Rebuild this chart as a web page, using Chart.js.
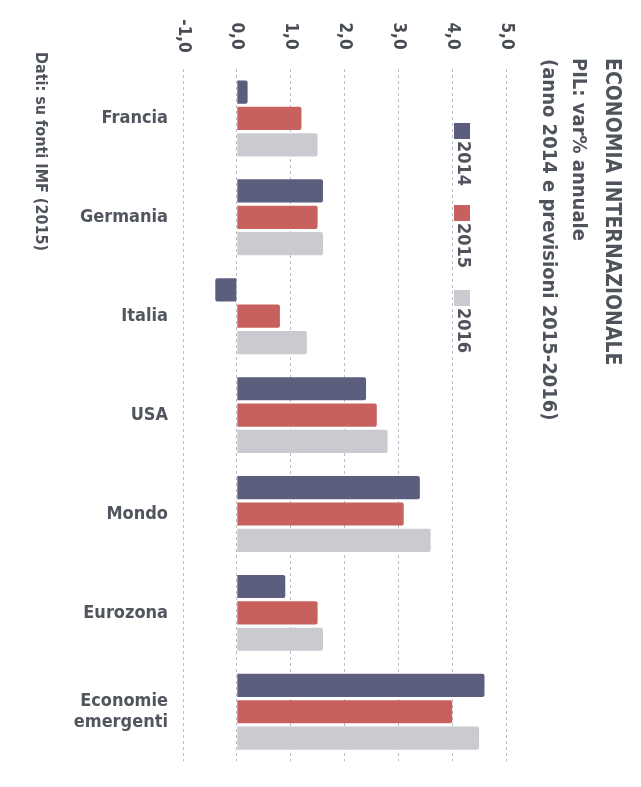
<!DOCTYPE html>
<html>
<head>
<meta charset="utf-8">
<script src="https://cdn.jsdelivr.net/npm/chart.js@4.4.1/dist/chart.umd.min.js"></script>
<style>
html,body{margin:0;padding:0;background:#fff;}
#wrap{position:relative;width:641px;height:787px;}
</style>
</head>
<body>
<div id="wrap"><canvas id="c" width="641" height="787"></canvas></div>
<script>
const categories = ['Francia', 'Germania', 'Italia', 'USA', 'Mondo', 'Eurozona', ['Economie', 'emergenti']];
const seriesNames = ['2014', '2015', '2016'];
const values2014 = [0.2, 1.6, -0.4, 2.4, 3.4, 0.9, 4.6];
const values2015 = [1.2, 1.5, 0.8, 2.6, 3.1, 1.5, 4.0];
const values2016 = [1.5, 1.6, 1.3, 2.8, 3.6, 1.6, 4.5];
const tickLabels = ['-1,0', '0,0', '1,0', '2,0', '3,0', '4,0', '5,0'];
const titleLines = ['ECONOMIA INTERNAZIONALE', 'PIL: var% annuale', '(anno 2014 e previsioni 2015-2016)'];
const sourceNote = 'Dati: su fonti IMF (2015)';

const colors = ['#5b5f7d', '#c8605d', '#c9cbd0'];
const FONT = '"DejaVu Sans Condensed", "DejaVu Sans", sans-serif';
const TXT = '#4f545c';

function rotText(ctx, text, x, y, font, color) {
  ctx.save();
  ctx.translate(x, y);
  ctx.rotate(Math.PI / 2);
  ctx.font = font;
  ctx.fillStyle = color;
  ctx.textAlign = 'left';
  ctx.textBaseline = 'middle';
  ctx.fillText(text, 0, 0);
  ctx.restore();
}

const textPlugin = {
  id: 'rotatedTexts',
  afterDraw(chart) {
    const ctx = chart.ctx;
    const xs = chart.scales.x;
    // tick labels, rotated clockwise
    xs.ticks.forEach((t, i) => {
      const px = xs.getPixelForValue(t.value);
      const lbl = tickLabels[i] !== undefined ? tickLabels[i] : String(t.value);
      ctx.save();
      ctx.translate(px, 36);
      ctx.rotate(Math.PI / 2);
      ctx.font = 'bold 17px ' + FONT;
      ctx.fillStyle = '#474b52';
      ctx.textAlign = 'center';
      ctx.textBaseline = 'middle';
      ctx.fillText(lbl, 0, 0);
      ctx.restore();
    });
    // title lines
    rotText(ctx, titleLines[0], 611, 58, 'bold 21px ' + FONT, TXT);
    rotText(ctx, titleLines[1], 578, 58, 'bold 20px ' + FONT, TXT);
    rotText(ctx, titleLines[2], 548, 59, 'bold 20px ' + FONT, TXT);
    // legend
    const ly = [123, 205, 290];
    seriesNames.forEach((n, i) => {
      ctx.fillStyle = colors[i];
      ctx.fillRect(454, ly[i], 16, 16);
      rotText(ctx, n, 463, ly[i] + 18, 'bold 18px ' + FONT, TXT);
    });
    // source note
    rotText(ctx, sourceNote, 40, 52, 'bold 16px ' + FONT, TXT);
  }
};

new Chart(document.getElementById('c'), {
  type: 'bar',
  data: {
    labels: categories,
    datasets: [
      { label: seriesNames[0], data: values2014, backgroundColor: colors[0], borderRadius: 2 },
      { label: seriesNames[1], data: values2015, backgroundColor: colors[1], borderRadius: 2 },
      { label: seriesNames[2], data: values2016, backgroundColor: colors[2], borderRadius: 2 }
    ]
  },
  options: {
    indexAxis: 'y',
    responsive: false,
    animation: false,
    devicePixelRatio: 1,
    layout: { padding: { left: 0, right: 135, top: 69, bottom: 20 } },
    datasets: { bar: { categoryPercentage: 0.8, barPercentage: 0.88 } },
    plugins: {
      legend: { display: false },
      title: { display: false },
      tooltip: { enabled: false }
    },
    scales: {
      x: {
        position: 'top',
        min: -1,
        max: 5,
        ticks: { display: false, stepSize: 1 },
        grid: { color: '#b9bdc6', lineWidth: 1, drawTicks: false },
        border: { display: false, dash: [3, 3] }
      },
      y: {
        afterFit(scale) { scale.width = 183; },
        grid: { display: false, drawTicks: false },
        border: { display: false },
        ticks: {
          color: '#51565e',
          font: { family: FONT, size: 18, weight: 'bold', lineHeight: 1.2 },
          padding: 15
        }
      }
    }
  },
  plugins: [textPlugin]
});
</script>
</body>
</html>
